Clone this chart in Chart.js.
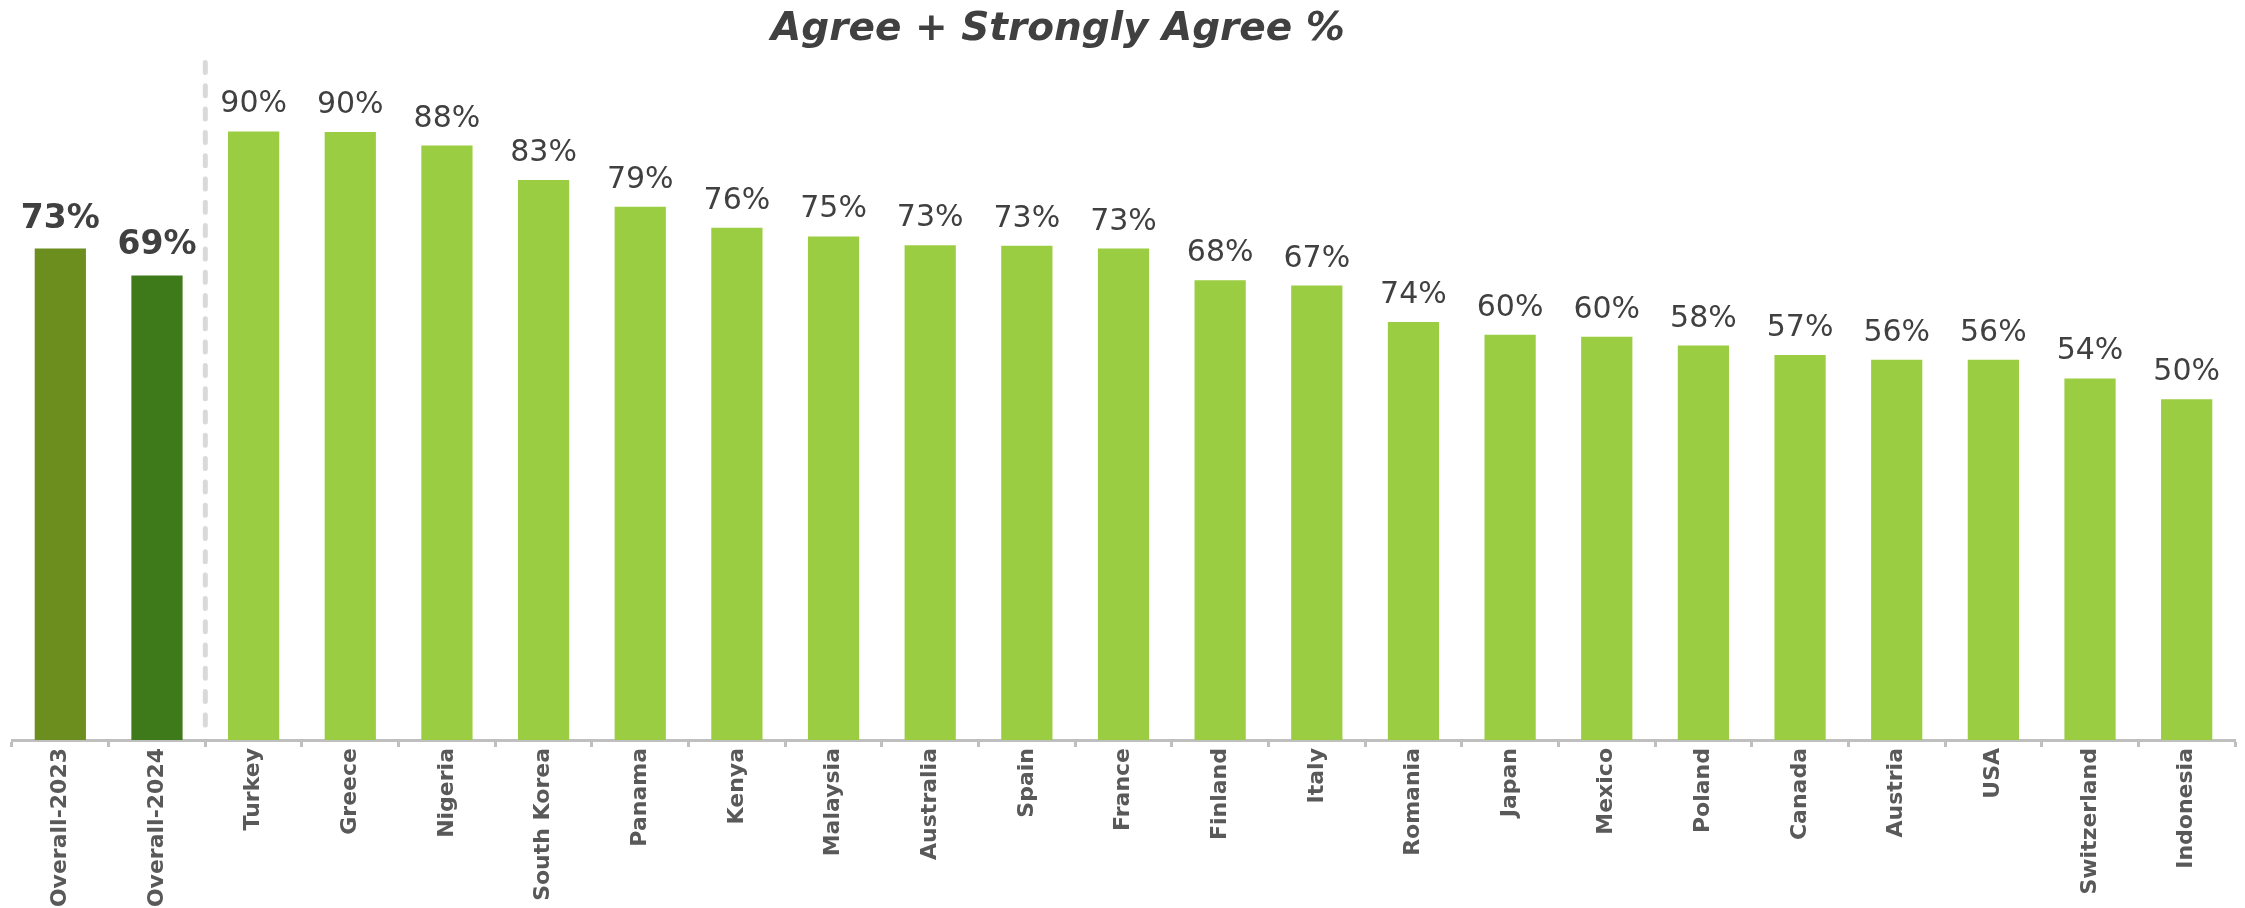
<!DOCTYPE html>
<html>
<head>
<meta charset="utf-8">
<script src="https://cdn.jsdelivr.net/npm/chart.js@4.4.0/dist/chart.umd.min.js"></script>
<style>
  html, body { margin: 0; padding: 0; background: #ffffff; }
  #wrap { width: 2245px; height: 908px; position: relative; }
</style>
</head>
<body>
<div id="wrap"><canvas id="c" width="2245" height="908"></canvas></div>
<script>
const titleText = 'Agree + Strongly Agree %';
const categories = ['Overall-2023', 'Overall-2024', 'Turkey', 'Greece', 'Nigeria', 'South Korea', 'Panama', 'Kenya', 'Malaysia', 'Australia', 'Spain', 'France', 'Finland', 'Italy', 'Romania', 'Japan', 'Mexico', 'Poland', 'Canada', 'Austria', 'USA', 'Switzerland', 'Indonesia'];
const values = [73.0, 69.0, 90.4, 90.3, 88.3, 83.2, 79.2, 76.1, 74.8, 73.5, 73.4, 73.0, 68.3, 67.5, 62.1, 60.2, 59.9, 58.6, 57.2, 56.5, 56.5, 53.7, 50.6];
const valueLabels = ['73%', '69%', '90%', '90%', '88%', '83%', '79%', '76%', '75%', '73%', '73%', '73%', '68%', '67%', '74%', '60%', '60%', '58%', '57%', '56%', '56%', '54%', '50%'];
const overallCount = 2;

const FONT = "'DejaVu Sans', sans-serif";

const titleShift = {
  id: 'titleShift',
  afterLayout(chart) {
    const tb = chart.titleBlock;
    if (tb) {
      const target = 1058;
      tb.right = 2 * target - tb.left;
    }
  }
};

const separator = {
  id: 'separator',
  afterDatasetsDraw(chart) {
    const xs = chart.scales.x;
    const area = chart.chartArea;
    const x = (xs.getPixelForValue(overallCount - 1) + xs.getPixelForValue(overallCount)) / 2;
    const ctx = chart.ctx;
    ctx.save();
    ctx.strokeStyle = '#d9d9d9';
    ctx.lineWidth = 5;
    ctx.lineCap = 'round';
    ctx.setLineDash([10, 13.3]);
    ctx.beginPath();
    ctx.moveTo(x, 62.5);
    ctx.lineTo(x, area.bottom - 4);
    ctx.stroke();
    ctx.restore();
  }
};

const barLabels = {
  id: 'barLabels',
  afterDatasetsDraw(chart) {
    const ctx = chart.ctx;
    const meta = chart.getDatasetMeta(0);
    ctx.save();
    ctx.textAlign = 'center';
    ctx.textBaseline = 'alphabetic';
    meta.data.forEach((el, i) => {
      const bold = i < overallCount;
      ctx.fillStyle = '#404040';
      ctx.font = bold ? `bold 33px ${FONT}` : `normal 30px ${FONT}`;
      ctx.fillText(valueLabels[i], el.x, el.y - (bold ? 21 : 19));
    });
    ctx.restore();
  }
};

new Chart(document.getElementById('c'), {
  type: 'bar',
  data: {
    labels: categories,
    datasets: [{
      data: values,
      backgroundColor: (ctx) => ctx.dataIndex === 0 ? '#6b8e1e' : (ctx.dataIndex === 1 ? '#3f7a1a' : '#9acd41'),
      borderWidth: 0,
      categoryPercentage: 1.0,
      barPercentage: 0.53
    }]
  },
  options: {
    responsive: false,
    animation: false,
    devicePixelRatio: 1,
    layout: { padding: { left: 12, right: 10, top: 0, bottom: 0 } },
    plugins: {
      legend: { display: false },
      tooltip: { enabled: false },
      title: {
        display: true,
        text: titleText,
        color: '#404040',
        font: { family: FONT, size: 39, weight: 'bold', style: 'italic' },
        padding: { top: 6, bottom: 14 }
      }
    },
    scales: {
      x: {
        grid: {
          display: true,
          drawOnChartArea: false,
          drawTicks: true,
          tickLength: 7,
          tickWidth: 3,
          color: '#bfbfbf',
          offset: true
        },
        border: { display: true, color: '#bfbfbf', width: 3 },
        ticks: {
          autoSkip: false,
          maxRotation: 90,
          minRotation: 90,
          padding: 1,
          color: '#595959',
          font: { family: FONT, size: 22, weight: 'bold' }
        },
        afterFit(scale) { scale.height = 168; }
      },
      y: {
        display: false,
        min: 0,
        max: 100
      }
    }
  },
  plugins: [titleShift, separator, barLabels]
});
</script>
</body>
</html>
